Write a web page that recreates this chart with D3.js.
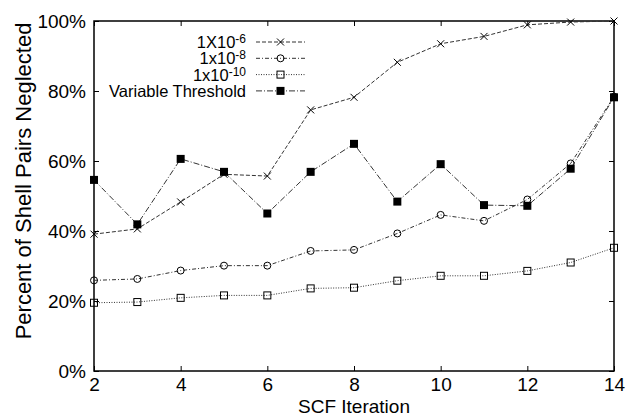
<!DOCTYPE html>
<html>
<head>
<meta charset="utf-8">
<script src="https://cdn.jsdelivr.net/npm/d3@7"></script>
<style>
  body { margin: 0; background: #fff; }
  text { font-family: "Liberation Sans", Arial, sans-serif; fill: #000; }
</style>
</head>
<body>
<div id="chart"></div>
<script>
// data
var iterations = [2, 3, 4, 5, 6, 7, 8, 9, 10, 11, 12, 13, 14];
var thresh6  = [39.1, 40.6, 48.3, 56.2, 55.7, 74.6, 78.2, 88.2, 93.5, 95.6, 98.9, 99.7, 100];
var thresh8  = [25.9, 26.3, 28.7, 30.1, 30.1, 34.3, 34.6, 39.3, 44.6, 42.9, 49.0, 59.3, 78.4];
var thresh10 = [19.5, 19.7, 20.9, 21.6, 21.6, 23.6, 23.8, 25.8, 27.2, 27.2, 28.6, 31.0, 35.2];
var variable = [54.6, 41.9, 60.6, 56.9, 45.0, 56.9, 64.9, 48.4, 59.1, 47.4, 47.2, 57.8, 78.2];
var xTicks = [2, 4, 6, 8, 10, 12, 14];
var yTicks = [0, 20, 40, 60, 80, 100];

var series = [
  { base: "1X10", exp: "-6",  values: thresh6,  dash: "4,2",     marker: "cross" },
  { base: "1x10", exp: "-8",  values: thresh8,  dash: "4,2,1,2", marker: "circle" },
  { base: "1x10", exp: "-10", values: thresh10, dash: "1,1.5",   marker: "square" },
  { base: "Variable Threshold", exp: null, values: variable, dash: "6,2,1,2", marker: "filled" }
];

var margin = { top: 21, right: 14, bottom: 45, left: 94 },
    width = 628 - margin.left - margin.right,
    height = 416 - margin.top - margin.bottom;

var svg = d3.select("#chart").append("svg")
  .attr("width", 628)
  .attr("height", 416)
  .append("g")
  .attr("transform", "translate(" + margin.left + "," + margin.top + ")");

var x = d3.scaleLinear().domain([2, 14]).range([0, width]);
var y = d3.scaleLinear().domain([0, 100]).range([height, 0]);

// axes, gnuplot style: inward ticks mirrored on all sides
svg.append("g")
  .attr("transform", "translate(0," + height + ")")
  .call(d3.axisBottom(x).tickValues(xTicks).tickSizeInner(-5).tickSizeOuter(0).tickPadding(7))
  .call(g => g.select(".domain").remove());
svg.append("g")
  .call(d3.axisTop(x).tickValues(xTicks).tickSizeInner(-5).tickSizeOuter(0).tickFormat(""))
  .call(g => g.select(".domain").remove());
svg.append("g")
  .call(d3.axisLeft(y).tickValues(yTicks).tickSizeInner(-5).tickSizeOuter(0).tickPadding(8)
    .tickFormat(d => d + "%"))
  .call(g => g.select(".domain").remove());
svg.append("g")
  .attr("transform", "translate(" + width + ",0)")
  .call(d3.axisRight(y).tickValues(yTicks).tickSizeInner(-5).tickSizeOuter(0).tickFormat(""))
  .call(g => g.select(".domain").remove());

svg.selectAll(".tick line").attr("stroke", "#000");
svg.selectAll(".tick text").style("font-size", "19px").style("font-family", "Liberation Sans, Arial, sans-serif");

svg.append("rect")
  .attr("width", width).attr("height", height)
  .attr("fill", "none").attr("stroke", "#000").attr("stroke-width", 1.5);

svg.append("text")
  .attr("x", width / 2).attr("y", height + 42)
  .attr("text-anchor", "middle").style("font-size", "19px")
  .text("SCF Iteration");
svg.append("text")
  .attr("transform", "rotate(-90)")
  .attr("x", -160).attr("y", -63)
  .attr("text-anchor", "middle").style("font-size", "22px")
  .text("Percent of Shell Pairs Neglected");

function drawMarker(g, type, cx, cy) {
  if (type === "cross") {
    g.append("path")
      .attr("d", "M" + (cx - 3.5) + "," + (cy - 3.5) + "L" + (cx + 3.5) + "," + (cy + 3.5) +
                 "M" + (cx - 3.5) + "," + (cy + 3.5) + "L" + (cx + 3.5) + "," + (cy - 3.5))
      .attr("stroke", "#000").attr("stroke-width", 1);
  } else if (type === "circle") {
    g.append("circle").attr("cx", cx).attr("cy", cy).attr("r", 3.5)
      .attr("fill", "none").attr("stroke", "#000").attr("stroke-width", 1);
  } else if (type === "square") {
    g.append("rect").attr("x", cx - 3.5).attr("y", cy - 3.5).attr("width", 7).attr("height", 7)
      .attr("fill", "none").attr("stroke", "#000").attr("stroke-width", 1);
  } else {
    g.append("rect").attr("x", cx - 4).attr("y", cy - 4).attr("width", 8).attr("height", 8)
      .attr("fill", "#000");
  }
}

var line = d3.line().x(d => x(d[0])).y(d => y(d[1]));

series.forEach(function(s) {
  var pts = iterations.map((it, i) => [it, s.values[i]]);
  svg.append("path")
    .datum(pts)
    .attr("d", line)
    .attr("fill", "none")
    .attr("stroke", "#333")
    .attr("stroke-width", 1)
    .attr("stroke-dasharray", s.dash);
  var mg = svg.append("g");
  pts.forEach(p => drawMarker(mg, s.marker, x(p[0]), y(p[1])));
});

// legend
var legend = svg.append("g").attr("transform", "translate(" + (246 - margin.left) + ",0)");
series.forEach(function(s, i) {
  var cy = 21 + i * 16.3;
  var t = legend.append("text")
    .attr("x", 0).attr("y", cy + 6)
    .attr("text-anchor", "end").style("font-size", "16.5px");
  t.append("tspan").text(s.base);
  if (s.exp) {
    t.append("tspan").attr("dy", -5).style("font-size", "12px").text(s.exp);
  }
  legend.append("line")
    .attr("x1", 10).attr("x2", 59).attr("y1", cy).attr("y2", cy)
    .attr("stroke", "#333").attr("stroke-width", 1).attr("stroke-dasharray", s.dash);
  drawMarker(legend, s.marker, 34.5, cy);
});
</script>
</body>
</html>
